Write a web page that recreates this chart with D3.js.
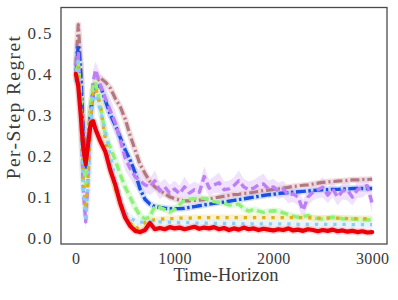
<!DOCTYPE html>
<html><head><meta charset="utf-8">
<script src="https://cdn.jsdelivr.net/npm/d3@7"></script>
<style>html,body{margin:0;padding:0;background:#fff;}</style>
</head><body>
<svg id="c" width="398" height="300"></svg>
<script>
const T = [0,25,50,75,100,125,150,175,200,
250,300,350,400,450,500,550,600,650,700,750,800,850,900,950,1000,
1050,1100,1150,1200,1250,1300,1350,1400,1450,1500,
1550,1600,1650,1700,1750,1800,1850,1900,1950,2000,
2050,2100,2150,2200,2250,2300,2350,2400,2450,2500,
2550,2600,2650,2700,2750,2800,2850,2900,2950,3000];

const red = [0.40,0.37,0.30,0.22,0.18,0.23,0.28,0.285,0.265,
0.235,0.21,0.165,0.13,0.085,0.05,0.03,0.018,0.015,0.02,0.037,0.022,0.025,0.022,0.027,0.024,
0.026,0.022,0.025,0.028,0.023,0.026,0.024,0.027,0.022,0.025,
0.02,0.024,0.021,0.026,0.022,0.024,0.02,0.023,0.021,0.019,
0.022,0.02,0.024,0.019,0.021,0.018,0.022,0.02,0.017,0.02,
0.018,0.021,0.017,0.019,0.016,0.018,0.015,0.017,0.014,0.015];

const brown = [0.42,0.52,0.42,0.28,0.20,0.25,0.32,0.36,0.38,
0.39,0.38,0.365,0.34,0.32,0.29,0.25,0.215,0.18,0.158,0.138,0.125,0.117,0.108,0.101,0.096,
0.093,0.091,0.091,0.092,0.093,0.094,0.096,0.098,0.1,0.102,
0.104,0.106,0.107,0.109,0.11,0.112,0.114,0.116,0.117,0.119,
0.12,0.122,0.124,0.126,0.127,0.129,0.13,0.132,0.134,0.136,
0.137,0.138,0.139,0.14,0.141,0.142,0.142,0.143,0.143,0.144];

const blue = [0.40,0.47,0.40,0.25,0.16,0.22,0.30,0.35,0.37,
0.37,0.335,0.30,0.275,0.245,0.215,0.19,0.16,0.12,0.095,0.083,0.077,0.075,0.073,0.072,0.072,
0.072,0.073,0.075,0.077,0.079,0.081,0.083,0.085,0.087,0.088,
0.09,0.092,0.094,0.096,0.098,0.1,0.102,0.104,0.106,0.107,
0.109,0.11,0.111,0.112,0.113,0.114,0.115,0.116,0.117,0.118,
0.118,0.119,0.119,0.12,0.12,0.121,0.121,0.121,0.121,0.121];

const green = [0.40,0.43,0.35,0.20,0.13,0.22,0.32,0.37,0.38,
0.32,0.25,0.22,0.19,0.155,0.124,0.10,0.075,0.055,0.047,0.052,0.078,0.075,0.07,0.064,0.07,
0.082,0.092,0.095,0.096,0.098,0.097,0.093,0.089,0.087,0.085,
0.081,0.082,0.083,0.072,0.066,0.07,0.066,0.063,0.065,0.067,
0.066,0.062,0.058,0.054,0.051,0.053,0.055,0.05,0.048,0.047,
0.049,0.051,0.05,0.047,0.048,0.047,0.046,0.045,0.045,0.044];

const purple = [0.42,0.45,0.30,0.12,0.04,0.15,0.30,0.38,0.41,
0.37,0.34,0.31,0.28,0.24,0.195,0.17,0.15,0.14,0.13,0.125,0.14,0.115,0.125,0.11,0.12,
0.108,0.125,0.11,0.118,0.112,0.15,0.122,0.13,0.135,0.118,
0.12,0.128,0.14,0.125,0.118,0.122,0.13,0.132,0.12,0.125,
0.115,0.12,0.105,0.108,0.1,0.068,0.1,0.112,0.118,0.124,
0.105,0.12,0.1,0.115,0.117,0.1,0.118,0.124,0.128,0.085];

const purpleErr = [0.03,0.04,0.04,0.03,0.02,0.03,0.03,0.03,0.02,
0.03,0.03,0.03,0.03,0.03,0.03,0.025,0.025,0.025,0.02,0.02,0.025,0.02,0.02,0.02,0.02,
0.02,0.025,0.02,0.02,0.02,0.025,0.02,0.02,0.025,0.02,
0.02,0.02,0.025,0.02,0.02,0.02,0.02,0.025,0.02,0.02,
0.02,0.02,0.02,0.02,0.02,0.025,0.02,0.02,0.02,0.025,
0.02,0.02,0.02,0.02,0.025,0.02,0.02,0.025,0.02,0.025];

const gold = [0.40,0.42,0.30,0.15,0.07,0.15,0.28,0.35,0.365,
0.32,0.24,0.17,0.12,0.085,0.058,0.038,0.022,0.03,0.038,0.043,0.045,0.046,0.047,0.048,0.048,
0.049,0.049,0.049,0.05,0.05,0.05,0.05,0.05,0.05,0.05,
0.05,0.05,0.05,0.05,0.05,0.05,0.05,0.05,0.05,0.05,
0.05,0.05,0.05,0.05,0.05,0.05,0.05,0.049,0.049,0.049,
0.049,0.049,0.049,0.049,0.048,0.048,0.048,0.048,0.048,0.048];

const lightblue = [0.38,0.43,0.30,0.12,0.05,0.13,0.27,0.34,0.35,
0.31,0.26,0.20,0.14,0.09,0.062,0.05,0.042,0.039,0.039,0.04,0.04,0.04,0.039,0.039,0.038,
0.038,0.038,0.038,0.037,0.037,0.037,0.037,0.036,0.036,0.036,
0.036,0.036,0.036,0.035,0.035,0.035,0.035,0.035,0.035,0.035,
0.035,0.035,0.035,0.035,0.034,0.034,0.034,0.034,0.034,0.034,
0.034,0.034,0.034,0.034,0.034,0.033,0.033,0.033,0.033,0.033];

const xTicks = [0,1000,2000,3000];
const yTicks = [0.0,0.1,0.2,0.3,0.4,0.5];

const svg = d3.select("#c");
const L = 61, R = 387, TOP = 7.5, B = 244;
const x = d3.scaleLinear().domain([-150,3150]).range([L,R]);
const y = d3.scaleLinear().domain([-0.014,0.5616]).range([B,TOP]);

const font = "'Liberation Serif', 'DejaVu Serif', serif";
const textCol = "#3a3a3a";

svg.append("defs").append("clipPath").attr("id","clip")
  .append("rect").attr("x",L).attr("y",TOP).attr("width",R-L).attr("height",B-TOP);

const g = svg.append("g").attr("clip-path","url(#clip)");

const line = vals => d3.line().x((d,i)=>x(T[i])).y(d=>y(d))(vals);

// purple band
g.append("path")
  .attr("d", d3.area().x((d,i)=>x(T[i])).y0((d,i)=>y(purple[i]-purpleErr[i])).y1((d,i)=>y(purple[i]+purpleErr[i]))(purple))
  .attr("fill","#c58df5").attr("fill-opacity",0.25).attr("stroke","none");

const series = [
  {v:brown, c:"#b27780", w:3.2, dash:"9,3,2,3", halo:"#e8c6cc"},
  {v:blue, c:"#1a4fe3", w:3.4, dash:"10,2.5,2.5,2.5", halo:"#b8c9f5"},
  {v:purple, c:"#bd7ff5", w:3.4, dash:"8,4", halo:null},
  {v:green, c:"#8ff07a", w:3.4, dash:"8,4", halo:"#cdf7c4"},
  {v:gold, c:"#dcb016", w:3.3, dash:"3.3,5.9", halo:"#f3e6b0"},
  {v:lightblue, c:"#8ccdf7", w:3.3, dash:"3.3,5.9", halo:"#d7edfc"},
  {v:red, c:"#e8000b", w:4.2, dash:null, halo:"#f6b3b3"}
];

series.forEach(s=>{
  if (s.halo) {
    g.append("path").attr("d",line(s.v)).attr("fill","none")
      .attr("stroke",s.halo).attr("stroke-width",s.w+3).attr("stroke-opacity",0.6)
      .attr("stroke-linejoin","round");
  }
});
series.forEach(s=>{
  const p = g.append("path").attr("d",line(s.v)).attr("fill","none")
    .attr("stroke",s.c).attr("stroke-width",s.w).attr("stroke-linejoin","round");
  if (s.dash) p.attr("stroke-dasharray",s.dash); else p.attr("stroke-linecap","round");
});

// frame
svg.append("rect").attr("x",L).attr("y",TOP).attr("width",R-L).attr("height",B-TOP)
  .attr("fill","none").attr("stroke","#4a4a4a").attr("stroke-width",1.3);

// axes (tick labels only)
const xAxis = d3.axisBottom(x).tickValues(xTicks).tickSize(0).tickPadding(9).tickFormat(d3.format("d"));
const ya = d3.axisLeft(y).tickValues(yTicks).tickSize(0).tickPadding(8).tickFormat(d3.format(".1f"));
const gx = svg.append("g").attr("transform",`translate(0,${B})`).call(xAxis);
const gy = svg.append("g").attr("transform",`translate(${L},0)`).call(ya);
[gx,gy].forEach(a=>{
  a.select(".domain").remove();
  a.selectAll("text").attr("font-family",font).attr("fill",textCol);
});
gx.selectAll("text").attr("font-size",16).attr("letter-spacing",0.4);
gy.selectAll("text").attr("font-size",17).attr("letter-spacing",1.4);

svg.append("text").attr("x",(L+R)/2+2).attr("y",281).attr("text-anchor","middle")
  .attr("font-family",font).attr("font-size",18.5).attr("fill",textCol).text("Time-Horizon");
svg.append("text").attr("transform","translate(20,107) rotate(-90)").attr("text-anchor","middle")
  .attr("font-family",font).attr("font-size",19.5).attr("letter-spacing",1.4).attr("fill",textCol).text("Per-Step Regret");
</script>
</body></html>
